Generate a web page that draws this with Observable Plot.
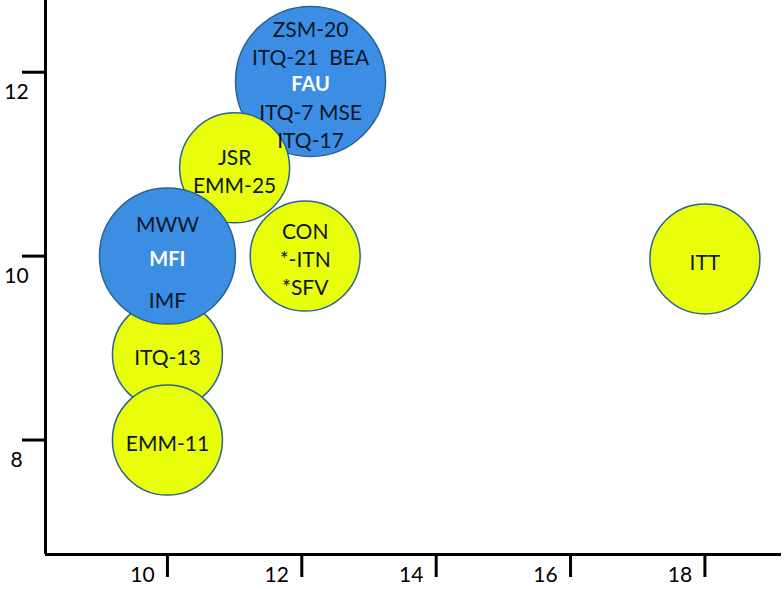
<!DOCTYPE html>
<html>
<head>
<meta charset="utf-8">
<script src="https://cdn.jsdelivr.net/npm/d3@7"></script>
<script src="https://cdn.jsdelivr.net/npm/@observablehq/plot@0.6"></script>
<style>
  html, body { margin: 0; padding: 0; background: #fff; }
</style>
</head>
<body>
<div id="chart"></div>
<script>
// Bubble data (draw order matters for overlaps)
const names   = ["FAU", "JSR", "ITQ-13", "EMM-11", "MFI", "CON", "ITT"];
const xs      = [12.13, 11.0, 10.0, 10.0, 10.0, 12.05, 18.0];
const ys      = [11.9, 10.96, 8.93, 8.0, 10.0, 10.0, 9.97];
const sizes   = [75, 55, 55, 55, 68, 55, 55];
const kinds   = ["multi", "single", "single", "single", "multi", "single", "single"];
const labels  = [
  "ZSM-20\nITQ-21  BEA\n \nITQ-7 MSE\nITQ-17",
  "JSR\nEMM-25",
  "ITQ-13",
  "EMM-11",
  "MWW\n \nIMF",
  "CON\n*-ITN\n*SFV",
  "ITT"
];
const centerLabels = ["FAU", "", "", "", "MFI", "", ""];
const xTicks = [10, 12, 14, 16, 18];
const yTicks = [8, 10, 12];

const data = names.map((n, i) => ({
  name: n, x: xs[i], y: ys[i], size: sizes[i], kind: kinds[i],
  label: labels[i], center: centerLabels[i]
}));

const blue = "#3b8ee4";
const yellow = "#e8fe0a";

const chart = Plot.plot({
  width: 784,
  height: 589,
  marginLeft: 45,
  marginRight: 3,
  marginTop: 0,
  marginBottom: 35,
  x: {domain: [8.185, 19.14], axis: null},
  y: {domain: [6.755, 12.78], axis: null},
  r: {type: "linear", domain: [0, 100], range: [0, 100]},
  color: {domain: ["multi", "single"], range: [blue, yellow]},
  style: {fontFamily: "Lato, 'Open Sans', sans-serif", background: "#fff", color: "#000"},
  marks: [
    Plot.dot(data, {x: "x", y: "y", r: "size", fill: "kind", stroke: "#2b6390", strokeWidth: 1.5, sort: null}),
    Plot.text(data.filter(d => d.name !== "MFI"), {
      x: "x", y: "y", text: "label", fontSize: 21, lineHeight: 1.32, fill: "#0c1626", dy: 2
    }),
    Plot.text(data.filter(d => d.name === "MFI"), {
      x: "x", y: "y", text: "label", fontSize: 21, lineHeight: 1.8, fill: "#0c1626", dy: 2
    }),
    Plot.text(data.filter(d => d.center), {
      x: "x", y: "y", text: "center", fontSize: 20, fontWeight: "bold", fill: "#ffffff", dy: 3
    }),
    // axis lines
    Plot.ruleX([8.185], {stroke: "#000", strokeWidth: 3}),
    Plot.ruleY([6.755], {stroke: "#000", strokeWidth: 3}),
    // y ticks and labels
    Plot.axisY(yTicks, {tickSize: 23, strokeWidth: 3, stroke: "#000", fill: "none", label: null}),
    Plot.axisY(yTicks, {tickSize: 0, tickPadding: 29, textAnchor: "middle", dy: 20, fontSize: 21, fill: "#000", tickFormat: d => String(d), label: null}),
    // x ticks and labels
    Plot.axisX(xTicks, {tickSize: 23, strokeWidth: 3, stroke: "#000", fill: "none", label: null}),
    Plot.axisX(xTicks, {tickSize: 0, tickPadding: 13, dx: -25, fontSize: 21, fill: "#000", tickFormat: d => String(d), label: null})
  ]
});
document.getElementById("chart").appendChild(chart);
</script>
</body>
</html>
